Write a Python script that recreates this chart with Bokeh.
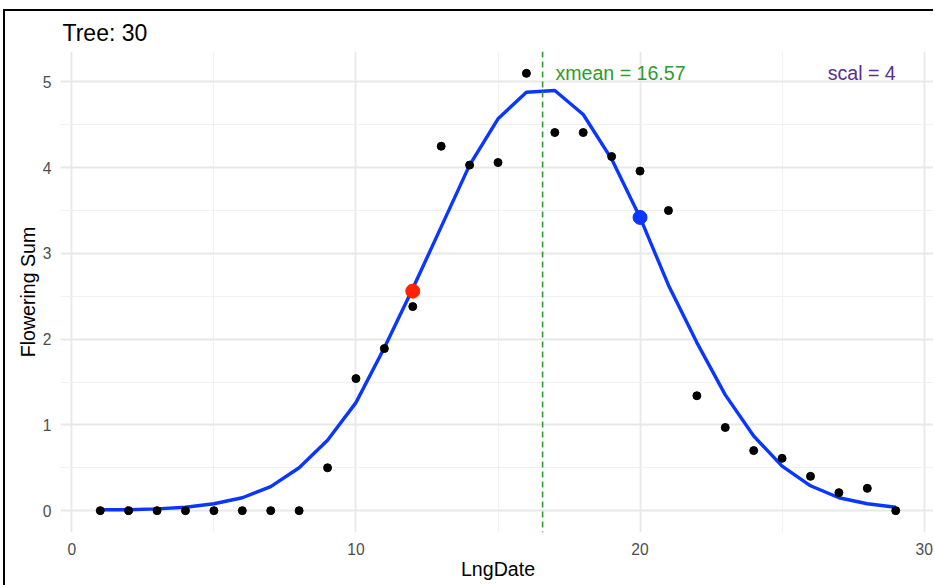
from bokeh.plotting import figure
from bokeh.models import FixedTicker, Span, Label, Range1d
from bokeh.embed import file_html
from bokeh.resources import INLINE

# observed data
lng_date = list(range(1, 30))
flower_sum = [0, 0, 0, 0, 0, 0, 0, 0, 0.50, 1.54, 1.89, 2.38, 4.25, 4.03, 4.06, 5.10,
              4.41, 4.41, 4.13, 3.96, 3.50, 1.34, 0.97, 0.70, 0.61, 0.40, 0.21, 0.26, 0.0]
# fitted curve
fit_y = [0.01, 0.01, 0.02, 0.04, 0.08, 0.15, 0.28, 0.50, 0.82, 1.26, 1.90, 2.59, 3.31,
         4.03, 4.57, 4.88, 4.90, 4.62, 4.10, 3.42, 2.63, 1.96, 1.35, 0.87, 0.52, 0.29,
         0.15, 0.08, 0.04]
red_pt = (12, 2.56)
blue_pt = (20, 3.42)
xmean = 16.57
scal = 4
label_y = 5.1

FONT = "Liberation Sans"

p = figure(width=930, height=576, output_backend="svg", toolbar_location=None,
           x_range=Range1d(-0.4, 30.4), y_range=Range1d(-0.255, 5.355),
           min_border_left=55, min_border_right=0, min_border_top=40, min_border_bottom=55,
           title="Tree: 30",
           styles={"border-left": "2px solid black", "border-top": "2px solid black",
                   "margin-top": "9px", "margin-left": "3px"})

p.outline_line_color = None
p.background_fill_color = "white"
p.border_fill_color = "white"

p.title.text_font = FONT
p.title.text_font_size = "23px"
p.title.text_font_style = "normal"
p.title.text_color = "black"
p.title.offset = 2
p.title.standoff = 12

for ax in (p.xaxis[0], p.yaxis[0]):
    ax.axis_line_color = None
    ax.major_tick_line_color = None
    ax.minor_tick_line_color = None
    ax.major_label_text_font = FONT
    ax.major_label_text_font_size = "15.6px"
    ax.major_label_text_color = "#4D4D4D"
    ax.axis_label_text_font = FONT
    ax.axis_label_text_font_size = "19.6px"
    ax.axis_label_text_font_style = "normal"
    ax.axis_label_text_color = "black"

p.xaxis.major_label_standoff = 4
p.yaxis.major_label_standoff = 3
p.xaxis.axis_label = "LngDate"
p.yaxis.axis_label = "Flowering Sum"
p.xaxis.axis_label_standoff = 0
p.yaxis.axis_label_standoff = 1

p.xaxis.ticker = FixedTicker(ticks=[0, 10, 20, 30], minor_ticks=[5, 15, 25])
p.yaxis.ticker = FixedTicker(ticks=[0, 1, 2, 3, 4, 5], minor_ticks=[0.5, 1.5, 2.5, 3.5, 4.5])

for g in (p.xgrid[0], p.ygrid[0]):
    g.grid_line_color = "#E8E8E8"
    g.grid_line_width = 1.8
    g.minor_grid_line_color = "#F1F1F1"
    g.minor_grid_line_width = 1.2

p.add_layout(Span(location=xmean, dimension="height", line_color="#2E9B2E",
                  line_dash="6 4", line_width=1.6))

p.line(lng_date, fit_y, line_color="#0a37ff", line_width=3.4)
p.scatter(lng_date, flower_sum, size=8, color="black")
p.scatter([red_pt[0]], [red_pt[1]], size=14, color="#ff2200")
p.scatter([blue_pt[0]], [blue_pt[1]], size=14, color="#0a37ff")

p.add_layout(Label(x=xmean + 0.45, y=label_y, text=f"xmean = {xmean}",
                   text_font=FONT, text_font_size="19.6px", text_color="#2E9B2E",
                   text_align="left", text_baseline="middle"))
p.add_layout(Label(x=29, y=label_y, text=f"scal = {scal}",
                   text_font=FONT, text_font_size="19.6px", text_color="#5c2d91",
                   text_align="right", text_baseline="middle"))

open("out.html", "w").write(file_html(p, INLINE))
